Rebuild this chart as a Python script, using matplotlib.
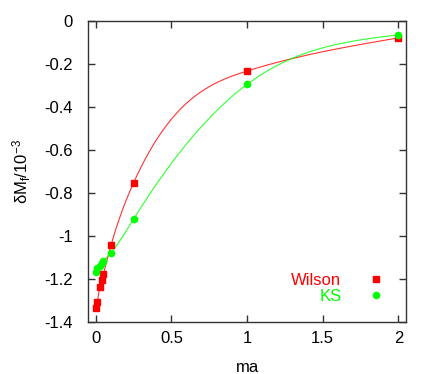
import matplotlib

matplotlib.use("Agg")
import matplotlib.pyplot as plt  # noqa: E402
import numpy as np  # noqa: E402

plt.rcParams["font.family"] = ["Liberation Sans", "DejaVu Sans"]
plt.rcParams["mathtext.fontset"] = "custom"
plt.rcParams["mathtext.rm"] = "Liberation Sans"
plt.rcParams["mathtext.it"] = "Liberation Sans"

# 데이터
wilson_x = [0.0, 0.01, 0.025, 0.04, 0.05, 0.1, 0.25, 1.0, 2.0]
wilson_y = [-1.338, -1.307, -1.24, -1.207, -1.18, -1.045, -0.753, -0.234, -0.08]
ks_x = [0.0, 0.01, 0.025, 0.04, 0.05, 0.1, 0.25, 1.0, 2.0]
ks_y = [-1.167, -1.152, -1.14, -1.128, -1.119, -1.079, -0.922, -0.296, -0.066]


def natural_spline(x, y, n=400):
    """gnuplot 'smooth csplines' 처럼 자연 3차 스플라인."""
    x = np.asarray(x, float)
    y = np.asarray(y, float)
    m = len(x)
    h = np.diff(x)
    A = np.zeros((m, m))
    b = np.zeros(m)
    A[0, 0] = A[-1, -1] = 1.0
    for i in range(1, m - 1):
        A[i, i - 1] = h[i - 1]
        A[i, i] = 2 * (h[i - 1] + h[i])
        A[i, i + 1] = h[i]
        b[i] = 6 * ((y[i + 1] - y[i]) / h[i] - (y[i] - y[i - 1]) / h[i - 1])
    M = np.linalg.solve(A, b)
    xs = np.linspace(x[0], x[-1], n)
    idx = np.clip(np.searchsorted(x, xs) - 1, 0, m - 2)
    x0, x1 = x[idx], x[idx + 1]
    hh = x1 - x0
    t0, t1 = x1 - xs, xs - x0
    ys = (M[idx] * t0 ** 3 + M[idx + 1] * t1 ** 3) / (6 * hh) \
        + (y[idx] / hh - M[idx] * hh / 6) * t0 \
        + (y[idx + 1] / hh - M[idx + 1] * hh / 6) * t1
    return xs, ys


fig = plt.figure(figsize=(4.36, 3.74), dpi=100)
ax = fig.add_axes([0.2025, 0.1398, 0.7285, 0.8049])

red, green = "#ff0000", "#00ff00"
sx, sy = natural_spline(wilson_x, wilson_y)
ax.plot(sx, sy, color=red, lw=0.8, alpha=0.8)
sx, sy = natural_spline(ks_x, ks_y)
ax.plot(sx, sy, color=green, lw=0.8, alpha=0.8)
ax.plot(wilson_x, wilson_y, ls="none", marker="s", ms=4.5, color=red, label="Wilson")
ax.plot(ks_x, ks_y, ls="none", marker="o", ms=4.5, color=green, label="KS")

ax.set_xlim(-0.05, 2.05)
ax.set_ylim(-1.4, 0)
ax.set_xticks([0, 0.5, 1, 1.5, 2])
ax.set_xticklabels(["0", "0.5", "1", "1.5", "2"])
ax.set_yticks([0, -0.2, -0.4, -0.6, -0.8, -1, -1.2, -1.4])
ax.set_yticklabels(["0", "-0.2", "-0.4", "-0.6", "-0.8", "-1", "-1.2", "-1.4"])
ax.tick_params(direction="in", top=True, right=True, length=5, width=1,
               labelsize=12, color="#333333")
ax.tick_params(axis="y", pad=11)
ax.tick_params(axis="x", pad=7)
for sp in ax.spines.values():
    sp.set_color("#333333")
    sp.set_linewidth(1)

ax.set_xlabel("ma", fontsize=12, labelpad=10)
ax.set_ylabel(r"$\delta$M$_f$/10$^{-3}$", fontsize=12, labelpad=8)

leg = ax.legend(loc="lower right", bbox_to_anchor=(1.007, 0.02), markerfirst=False,
                frameon=False, fontsize=12, handlelength=2.5, handletextpad=0.8,
                labelspacing=0.05, borderpad=0.2)
for t, c in zip(leg.get_texts(), (red, green)):
    t.set_color(c)

fig.savefig("out.png", dpi=100)
plt.close(fig)
